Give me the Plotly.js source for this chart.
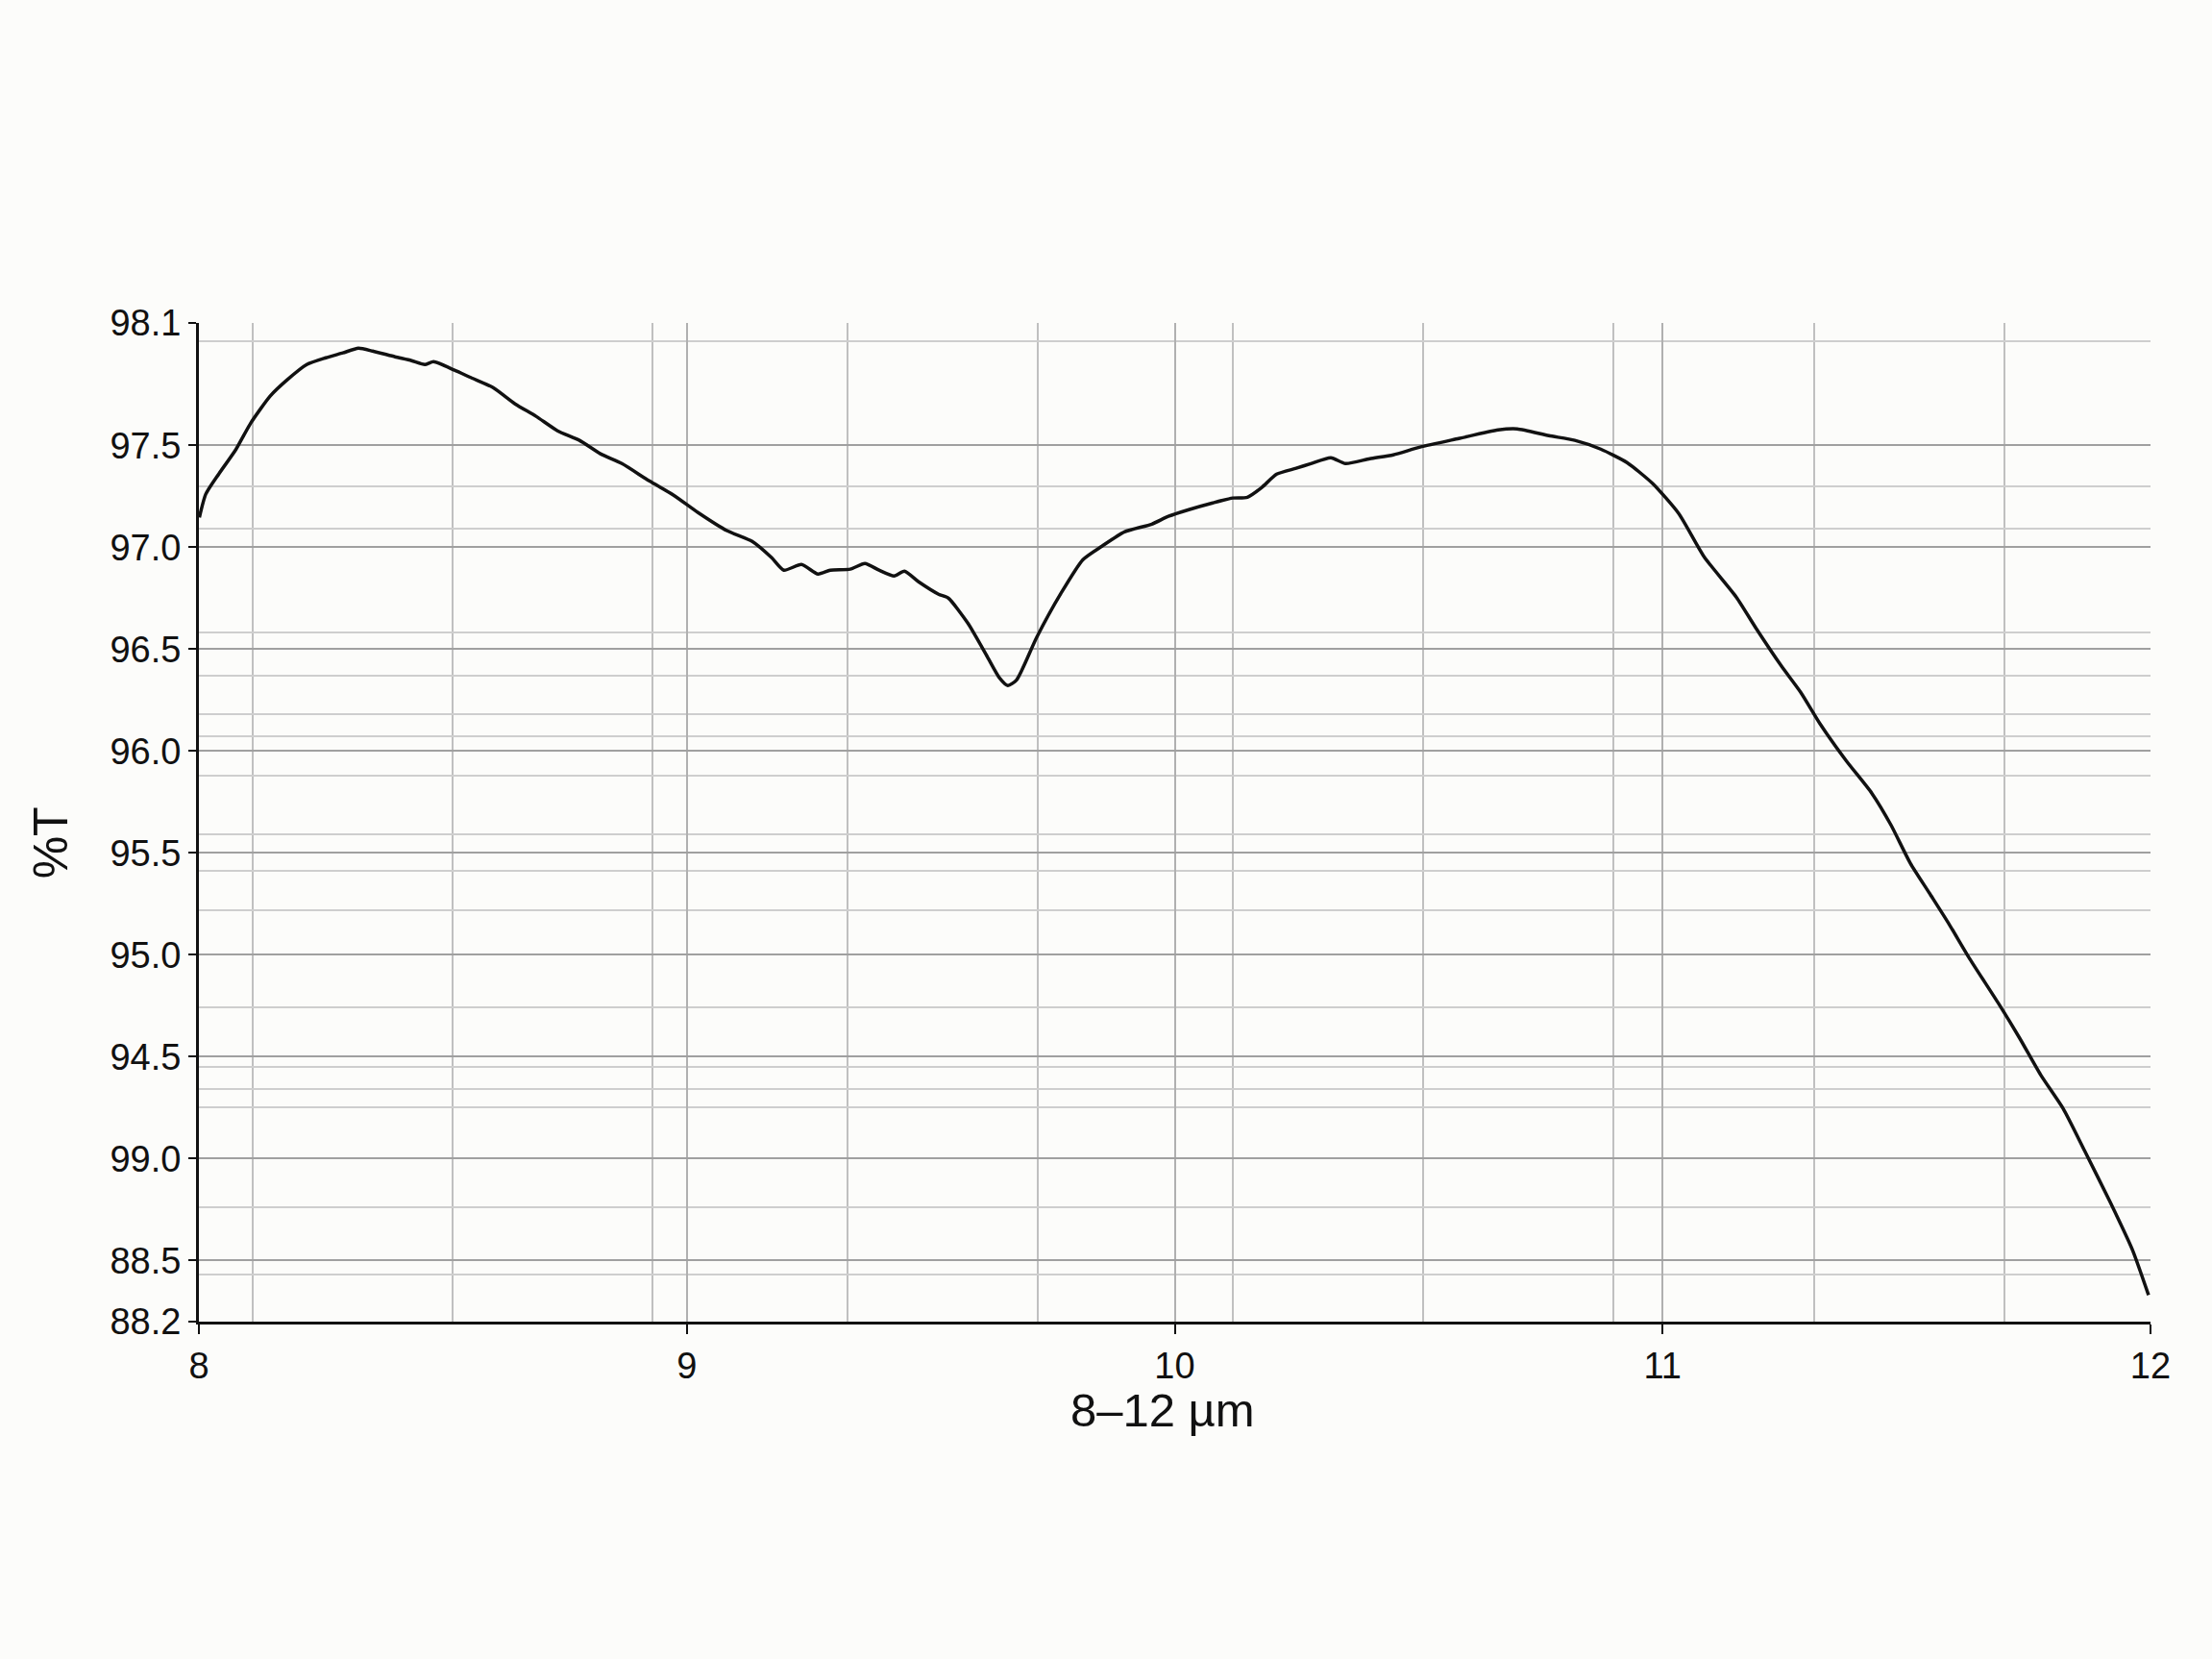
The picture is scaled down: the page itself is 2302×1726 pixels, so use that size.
<!DOCTYPE html>
<html>
<head>
<meta charset="utf-8">
<script src="https://cdn.plot.ly/plotly-3.0.1.min.js"></script>
<style>
  html, body { margin: 0; padding: 0; background: #fcfcfa; }
  #chart { width: 2302px; height: 1726px; }
</style>
</head>
<body>
<div id="chart"></div>
<script>
// spectrum: wavelength (µm) and transmission (plotted scale)
const wavelength = [
  8.001, 8.014, 8.041, 8.076, 8.106, 8.146, 8.181, 8.221, 8.260, 8.295, 8.327, 8.356,
  8.402, 8.436, 8.463, 8.481, 8.524, 8.559, 8.603, 8.648, 8.691, 8.735, 8.780, 8.823,
  8.867, 8.923, 8.973, 9.023, 9.083, 9.134, 9.174, 9.199, 9.235, 9.269, 9.294, 9.335,
  9.365, 9.394, 9.425, 9.446, 9.475, 9.516, 9.536, 9.576, 9.616, 9.641, 9.658, 9.676,
  9.717, 9.767, 9.812, 9.851, 9.897, 9.953, 9.987, 10.029, 10.078, 10.119, 10.149, 10.178,
  10.209, 10.249, 10.279, 10.320, 10.350, 10.400, 10.448, 10.503, 10.582, 10.663, 10.702, 10.767,
  10.820, 10.873, 10.927, 10.980, 11.033, 11.085, 11.151, 11.191, 11.244, 11.283, 11.323, 11.376,
  11.429, 11.468, 11.508, 11.547, 11.587, 11.628, 11.689, 11.732, 11.775, 11.821, 11.865, 11.917,
  11.963, 11.996
];
const transmission = [
  97.146, 97.260, 97.360, 97.480, 97.608, 97.741, 97.821, 97.896, 97.929, 97.953, 97.976, 97.962,
  97.934, 97.915, 97.896, 97.910, 97.868, 97.830, 97.783, 97.703, 97.642, 97.571, 97.524, 97.458,
  97.410, 97.325, 97.255, 97.170, 97.080, 97.028, 96.948, 96.887, 96.915, 96.868, 96.887, 96.892,
  96.920, 96.887, 96.858, 96.882, 96.830, 96.769, 96.750, 96.627, 96.462, 96.358, 96.321, 96.349,
  96.557, 96.774, 96.939, 97.005, 97.075, 97.113, 97.151, 97.184, 97.217, 97.241, 97.245, 97.292,
  97.358, 97.387, 97.410, 97.439, 97.410, 97.434, 97.453, 97.491, 97.533, 97.575, 97.580, 97.547,
  97.524, 97.481, 97.415, 97.311, 97.165, 96.953, 96.755, 96.604, 96.415, 96.288, 96.132, 95.953,
  95.792, 95.637, 95.448, 95.302, 95.151, 94.986, 94.759, 94.590, 94.410, 94.245, 94.038, 93.788,
  93.552, 93.330
];

// axis ticks (the printed labels are kept as they appear)
const xTicks = [8, 9, 10, 11, 12];
const xTickLabels = ["8", "9", "10", "11", "12"];
const yTicks = [98.1, 97.5, 97.0, 96.5, 96.0, 95.5, 95.0, 94.5, 94.0, 93.5, 93.2];
const yTickLabels = ["98.1", "97.5", "97.0", "96.5", "96.0", "95.5", "95.0", "94.5", "99.0", "88.5", "88.2"];

// extra grid lines between the ticks
const xMinorGrid = [8.11, 8.52, 8.93, 9.33, 9.72, 10.12, 10.51, 10.9, 11.31, 11.7];
const yMinorGrid = [98.01, 97.3, 97.09, 96.58, 96.37, 96.18, 96.07, 95.88, 95.59, 95.41, 95.22,
  94.74, 94.45, 94.34, 94.25, 93.76, 93.43];

const xTitle = "8\u201312 \u00b5m";
const yTitle = "%T";

(function () {
  const font = "Liberation Sans, Arial, Helvetica, sans-serif";

  const trace = {
    x: wavelength,
    y: transmission,
    type: "scatter",
    mode: "lines",
    line: { color: "#111111", width: 3.5, shape: "spline", smoothing: 0.6 },
    hoverinfo: "skip",
  };

  const layout = {
    width: 2302,
    height: 1726,
    paper_bgcolor: "#fcfcfa",
    plot_bgcolor: "#fcfcfa",
    margin: { l: 207, r: 64, t: 336, b: 351 },
    showlegend: false,
    font: { family: font, color: "#111111", size: 38 },
    xaxis: {
      range: [8, 12],
      tickmode: "array",
      tickvals: xTicks,
      ticktext: xTickLabels,
      ticks: "outside",
      ticklen: 10,
      tickwidth: 2,
      tickcolor: "#111111",
      showline: true,
      linecolor: "#111111",
      linewidth: 3,
      showgrid: true,
      gridcolor: "#b0b0b0",
      gridwidth: 2,
      zeroline: false,
      tickfont: { size: 38 },
      minor: {
        tickmode: "array",
        tickvals: xMinorGrid,
        ticks: "",
        showgrid: true,
        gridcolor: "#c0c0c0",
        gridwidth: 2,
      },
    },
    yaxis: {
      range: [93.2, 98.1],
      tickmode: "array",
      tickvals: yTicks,
      ticktext: yTickLabels,
      ticks: "outside",
      ticklen: 8,
      tickwidth: 2,
      tickcolor: "#111111",
      showline: true,
      linecolor: "#111111",
      linewidth: 3,
      showgrid: true,
      gridcolor: "#a0a0a0",
      gridwidth: 2,
      zeroline: false,
      tickfont: { size: 38 },
      minor: {
        tickmode: "array",
        tickvals: yMinorGrid,
        ticks: "",
        showgrid: true,
        gridcolor: "#cecece",
        gridwidth: 2,
      },
    },
    annotations: [
      {
        text: yTitle,
        xref: "paper",
        yref: "paper",
        x: -0.0758,
        y: 0.479,
        xanchor: "center",
        yanchor: "middle",
        textangle: -90,
        showarrow: false,
        font: { family: font, size: 50, color: "#111111" },
      },
      {
        text: xTitle,
        xref: "paper",
        yref: "paper",
        x: 0.494,
        y: -0.0885,
        xanchor: "center",
        yanchor: "middle",
        showarrow: false,
        font: { family: font, size: 49, color: "#111111" },
      },
    ],
  };

  Plotly.newPlot("chart", [trace], layout, { displayModeBar: false, staticPlot: true });
})();
</script>
</body>
</html>
